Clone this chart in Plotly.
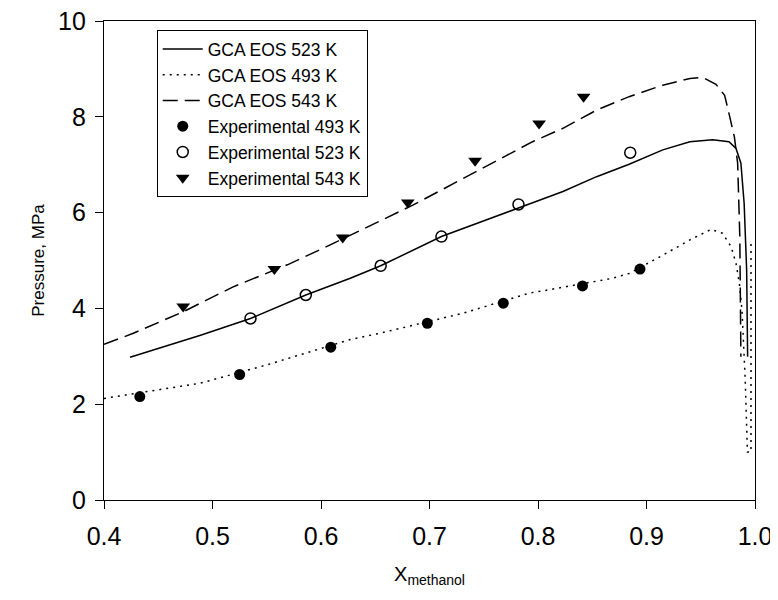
import plotly.graph_objects as go

# Model curves (GCA EOS)
eos523_x = [0.424, 0.489, 0.535, 0.586, 0.627, 0.655, 0.711, 0.782, 0.823, 0.854, 0.884,
            0.915, 0.940, 0.961, 0.976, 0.9825, 0.987, 0.990, 0.9923, 0.9932]
eos523_y = [2.98, 3.44, 3.79, 4.28, 4.63, 4.89, 5.50, 6.09, 6.44, 6.75, 7.01,
            7.31, 7.48, 7.52, 7.48, 7.34, 7.03, 6.19, 4.80, 2.99]

eos493_x = [0.400, 0.489, 0.550, 0.627, 0.654, 0.731, 0.792, 0.808, 0.869, 0.884, 0.915,
            0.940, 0.9595, 0.970, 0.978, 0.9825, 0.9856, 0.988, 0.991, 0.993, 0.9963, 0.9963]
eos493_y = [2.12, 2.44, 2.82, 3.35, 3.48, 3.90, 4.32, 4.38, 4.63, 4.73, 5.11,
            5.43, 5.65, 5.57, 5.29, 4.94, 4.52, 3.97, 2.50, 1.00, 1.00, 5.36]

eos543_x = [0.400, 0.427, 0.473, 0.519, 0.569, 0.608, 0.685, 0.746, 0.795, 0.823, 0.854,
            0.884, 0.915, 0.940, 0.952, 0.964, 0.972, 0.976, 0.981, 0.984, 0.986, 0.987]
eos543_y = [3.25, 3.48, 3.93, 4.45, 4.91, 5.32, 6.16, 6.89, 7.48, 7.76, 8.14,
            8.42, 8.66, 8.80, 8.82, 8.68, 8.45, 8.07, 7.58, 7.03, 5.50, 2.99]

# Experimental data
exp493_x = [0.433, 0.525, 0.609, 0.698, 0.768, 0.841, 0.894]
exp493_y = [2.16, 2.62, 3.19, 3.69, 4.11, 4.47, 4.82]

exp523_x = [0.535, 0.586, 0.655, 0.711, 0.782, 0.885]
exp523_y = [3.79, 4.28, 4.89, 5.50, 6.17, 7.25]

exp543_x = [0.473, 0.557, 0.620, 0.680, 0.742, 0.801, 0.842]
exp543_y = [4.04, 4.82, 5.48, 6.21, 7.08, 7.86, 8.42]

x_ticks = [0.4, 0.5, 0.6, 0.7, 0.8, 0.9, 1.0]
x_ticklabels = ["0.4", "0.5", "0.6", "0.7", "0.8", "0.9", "1.0"]
y_ticks = [0, 2, 4, 6, 8, 10]

fig = go.Figure()
fig.add_trace(go.Scatter(x=eos523_x, y=eos523_y, mode="lines", name="GCA EOS 523 K",
                         line=dict(color="black", width=1.5)))
fig.add_trace(go.Scatter(x=eos493_x, y=eos493_y, mode="lines", name="GCA EOS 493 K",
                         line=dict(color="black", width=1.5, dash="2px,5px")))
fig.add_trace(go.Scatter(x=eos543_x, y=eos543_y, mode="lines", name="GCA EOS 543 K",
                         line=dict(color="black", width=1.5, dash="15px,7px")))
fig.add_trace(go.Scatter(x=exp493_x, y=exp493_y, mode="markers", name="Experimental 493 K",
                         marker=dict(symbol="circle", size=11, color="black")))
fig.add_trace(go.Scatter(x=exp523_x, y=exp523_y, mode="markers", name="Experimental 523 K",
                         marker=dict(symbol="circle-open", size=11, color="black",
                                     line=dict(width=1.5, color="black"))))
fig.add_trace(go.Scatter(x=exp543_x, y=exp543_y, mode="markers", name="Experimental 543 K",
                         marker=dict(symbol="triangle-down", size=12, color="black")))

fig.update_layout(
    width=770, height=592,
    margin=dict(l=95.5, r=23, t=13, b=100, autoexpand=False),
    paper_bgcolor="white", plot_bgcolor="white",
    font=dict(family="Liberation Sans, Arial, sans-serif", color="black"),
    showlegend=True,
    legend=dict(x=0.081, y=0.981, xanchor="left", yanchor="top",
                bordercolor="black", borderwidth=1, bgcolor="white",
                font=dict(size=17.5, color="black"), tracegroupgap=0, itemwidth=40),
    xaxis=dict(range=[0.4, 1.0], tickvals=x_ticks, ticktext=x_ticklabels,
               automargin=False, ticklabeloverflow="allow",
               showgrid=False, zeroline=False, showline=True, linecolor="black",
               linewidth=1.2, mirror=True, ticks="outside", ticklen=8, tickwidth=1.2,
               tickcolor="black", tickfont=dict(size=25, color="black"), ticklabelstandoff=6,
               title=dict(text="X<sub>methanol</sub>", font=dict(size=20, color="black"),
                          standoff=17)),
    yaxis=dict(range=[0, 10], tickvals=y_ticks,
               automargin=False, ticklabeloverflow="allow",
               showgrid=False, zeroline=False, showline=True, linecolor="black",
               linewidth=1.2, mirror=True, ticks="outside", ticklen=8, tickwidth=1.2,
               tickcolor="black", tickfont=dict(size=25, color="black"), ticklabelstandoff=4,
               title=dict(text="Pressure, MPa", font=dict(size=17, color="black"),
                          standoff=9)),
)

fig.write_html("out.html")
